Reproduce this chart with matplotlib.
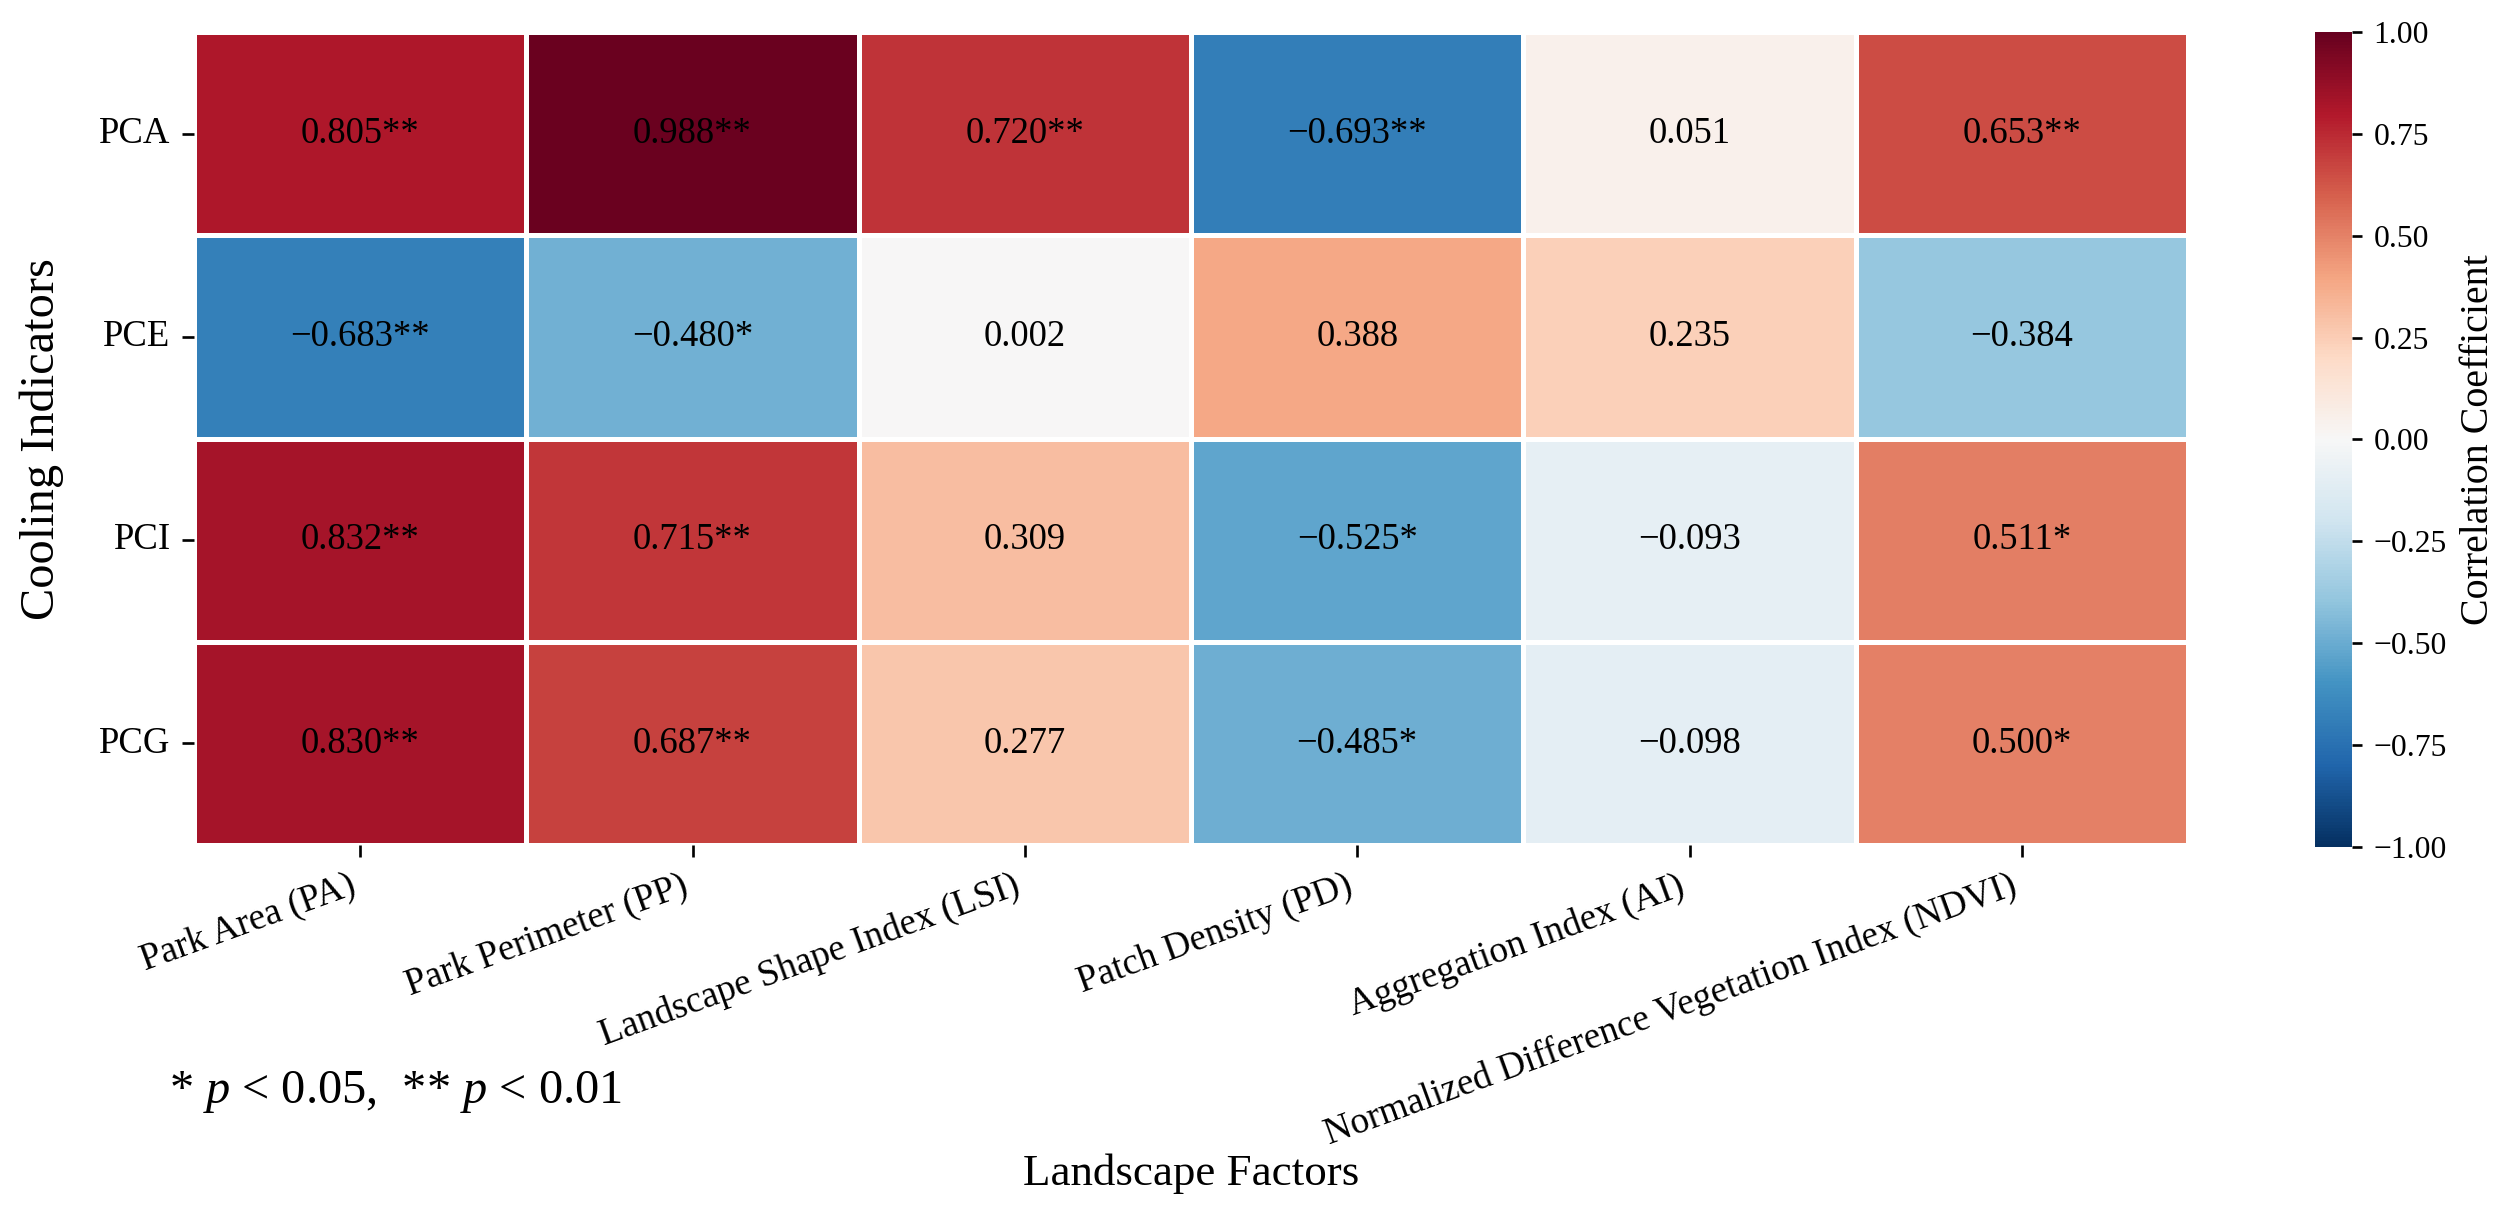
import numpy as np
import pandas as pd
import matplotlib
matplotlib.use("Agg")
import matplotlib.pyplot as plt
import seaborn as sns

plt.rcParams['font.family'] = ['Liberation Serif', 'DejaVu Serif']
plt.rcParams['mathtext.fontset'] = 'custom'
plt.rcParams['mathtext.rm'] = 'Liberation Serif'
plt.rcParams['mathtext.it'] = 'Liberation Serif:italic'

# landscape factors (columns) and cooling indicators (rows)
factors = ['Park Area (PA)', 'Park Perimeter (PP)', 'Landscape Shape Index (LSI)',
           'Patch Density (PD)', 'Aggregation Index (AI)',
           'Normalized Difference Vegetation Index (NDVI)']
indicators = ['PCA', 'PCE', 'PCI', 'PCG']

# correlation coefficients per indicator
pca = [0.805, 0.988, 0.720, -0.693, 0.051, 0.653]
pce = [-0.683, -0.480, 0.002, 0.388, 0.235, -0.384]
pci = [0.832, 0.715, 0.309, -0.525, -0.093, 0.511]
pcg = [0.830, 0.687, 0.277, -0.485, -0.098, 0.500]

# significance marks
pca_sig = ['**', '**', '**', '**', '', '**']
pce_sig = ['**', '*', '', '', '', '']
pci_sig = ['**', '**', '', '*', '', '*']
pcg_sig = ['**', '**', '', '*', '', '*']

df = pd.DataFrame([pca, pce, pci, pcg], index=indicators, columns=factors)
sig = [pca_sig, pce_sig, pci_sig, pcg_sig]

# annotation text, with a real minus sign
annot = np.empty(df.shape, dtype=object)
for i in range(df.shape[0]):
    for j in range(df.shape[1]):
        annot[i, j] = (f"{df.iloc[i, j]:.3f}" + sig[i][j]).replace('-', '\u2212')

fig = plt.figure(figsize=(2504 / 240, 1211 / 240), dpi=240)
ax = fig.add_axes([0.0775, 0.3022, 0.7963, 0.6713])
cax = fig.add_axes([0.9245, 0.3006, 0.0148, 0.673])

sns.heatmap(df, ax=ax, cbar_ax=cax, cmap='RdBu_r', vmin=-1, vmax=1,
            annot=annot, fmt='', linewidths=1, linecolor='white',
            annot_kws={'size': 11, 'color': 'black'})

ax.set_yticklabels(indicators, rotation=0, fontsize=11)
ax.set_xticklabels(factors, rotation=20, ha='right', fontsize=11.2)
ax.tick_params(axis='both', length=3.5, width=0.8)

ax.set_ylabel('Cooling Indicators', fontsize=14.5)
ax.yaxis.set_label_coords(-0.065, 0.5)
ax.set_xlabel('Landscape Factors', fontsize=13.5)
ax.xaxis.set_label_coords(0.5, -0.38)

cbar = ax.collections[0].colorbar
cbar.set_ticks([-1, -0.75, -0.5, -0.25, 0, 0.25, 0.5, 0.75, 1])
cbar.ax.set_yticklabels([f"{t:.2f}".replace('-', '\u2212') for t in cbar.get_ticks()])
cbar.ax.tick_params(labelsize=9.5, length=3, width=0.8)
cbar.set_label('Correlation Coefficient', fontsize=12)
cbar.outline.set_visible(False)

fig.text(0.0675, 0.0892, r"* $p$ < 0.05,  ** $p$ < 0.01", fontsize=14.5, va='baseline')

fig.savefig('out.png', dpi=240)
